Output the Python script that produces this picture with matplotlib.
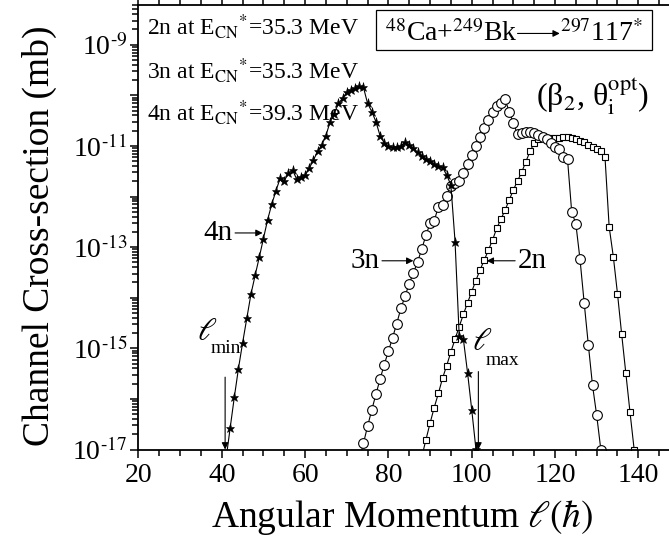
import numpy as np
import matplotlib
matplotlib.use("Agg")
import matplotlib.pyplot as plt
from matplotlib.patches import Rectangle
from matplotlib.ticker import LogLocator, MultipleLocator, FuncFormatter, NullFormatter

plt.rcParams["font.family"] = "serif"
plt.rcParams["font.serif"] = ["Liberation Serif", "DejaVu Serif"]
plt.rcParams["mathtext.fontset"] = "stix"

# angular momentum l (hbar) and log10 of the channel cross-section (mb)
l_4n = np.arange(41, 102)
logsig_4n = [-17.2, -16.58, -15.97, -15.40, -14.89, -14.41, -13.93, -13.56, -13.20, -12.83,
             -12.46, -12.15, -11.89, -11.64, -11.69, -11.54, -11.48, -11.66, -11.61, -11.58,
             -11.44, -11.28, -11.11, -10.98, -10.80, -10.52, -10.36, -10.16, -10.06, -9.94,
             -9.90, -9.86, -9.82, -9.84, -10.16, -10.32, -10.52, -10.80, -10.94, -11.01,
             -11.03, -11.03, -11.00, -10.93, -10.98, -11.05, -11.12, -11.19, -11.26, -11.30,
             -11.36, -11.40, -11.42, -11.58, -11.77, -12.89, -14.75, -14.82, -15.48, -16.21,
             -16.98]

l_3n = np.arange(73, 132)
logsig_3n = [-17.2, -16.88, -16.54, -16.22, -15.91, -15.61, -15.32, -15.06, -14.79, -14.51,
             -14.21, -13.97, -13.72, -13.51, -13.29, -13.04, -12.77, -12.53, -12.48, -12.20,
             -12.16, -11.99, -11.79, -11.74, -11.70, -11.54, -11.36, -11.18, -11.01, -10.83,
             -10.65, -10.49, -10.32, -10.22, -10.15, -10.08, -10.32, -10.55, -10.77, -10.74,
             -10.72, -10.72, -10.75, -10.79, -10.83, -10.87, -10.95, -11.03, -11.07, -11.22,
             -11.26, -12.30, -12.54, -13.24, -14.10, -14.93, -15.73, -16.32, -17.0]

l_2n = np.arange(88, 140)
logsig_2n = [-17.15, -16.81, -16.48, -16.17, -15.89, -15.59, -15.34, -15.07, -14.82, -14.57,
             -14.33, -14.10, -13.88, -13.66, -13.45, -13.26, -13.06, -12.86, -12.63, -12.45,
             -12.27, -12.07, -11.87, -11.69, -11.52, -11.31, -11.11, -10.94, -10.86, -10.85,
             -10.85, -10.85, -10.85, -10.84, -10.83, -10.83, -10.84, -10.87, -10.90, -10.93,
             -10.98, -11.03, -11.07, -11.10, -11.22, -12.60, -13.19, -13.92, -14.72, -15.49,
             -16.26, -17.0]

# critical angular momenta
l_min = 40.8
l_max = 101.6

channel_labels = [r"2n at E$_{\rm CN}$$^{*}$=35.3 MeV",
                  r"3n at E$_{\rm CN}$$^{*}$=35.3 MeV",
                  r"4n at E$_{\rm CN}$$^{*}$=39.3 MeV"]

fig = plt.figure(figsize=(6.69, 5.5), dpi=100)
ax = fig.add_axes([0.207, 0.1827, 0.8094, 0.8082])

lw = 0.8
ax.plot(l_2n, 10.0 ** np.array(logsig_2n), color="black", linewidth=lw, marker="s",
        markersize=4, markerfacecolor="white", markeredgecolor="black", markeredgewidth=0.8)
ax.plot(l_3n, 10.0 ** np.array(logsig_3n), color="black", linewidth=lw, marker="o",
        markersize=7, markerfacecolor="white", markeredgecolor="black", markeredgewidth=0.8)
ax.plot(l_4n, 10.0 ** np.array(logsig_4n), color="black", linewidth=lw, marker="*",
        markersize=6.5, markerfacecolor="black", markeredgecolor="black", markeredgewidth=0.4)

ax.set_yscale("log")
ax.set_xlim(20, 150)
ax.set_ylim(1e-17, 10 ** -8.215)

ax.xaxis.set_major_locator(MultipleLocator(20))
ax.xaxis.set_minor_locator(MultipleLocator(5))
ax.yaxis.set_major_locator(LogLocator(base=10, numticks=30))
ax.yaxis.set_minor_locator(LogLocator(base=10, subs=np.arange(2, 10), numticks=30))
ax.yaxis.set_minor_formatter(NullFormatter())


def decade_label(v, pos):
    e = int(round(np.log10(v)))
    if e % 2 == 0:
        return ""
    return r"10$^{\text{%d}}$" % e


ax.yaxis.set_major_formatter(FuncFormatter(decade_label))

ax.tick_params(axis="both", which="both", direction="out", width=1.1, labelsize=20)
ax.tick_params(axis="x", which="both", top=True, pad=4)
ax.tick_params(axis="y", which="both", pad=2)
ax.tick_params(which="major", length=6)
ax.tick_params(which="minor", length=4)
for s in ax.spines.values():
    s.set_linewidth(1.3)

ax.set_xlabel(r"Angular Momentum $\ell(\hbar)$", fontsize=27)
ax.set_ylabel("Channel Cross-section (mb)", fontsize=27)
ax.xaxis.set_label_coords(0.487, -0.11)
ax.yaxis.set_label_coords(-0.150, 0.48)

# channel labels with arrows
arrow_kw = dict(arrowstyle="-|>", color="black", lw=0.8, mutation_scale=10,
                shrinkA=0, shrinkB=0)
ax.annotate("4n", xy=(49.8, 10 ** -12.72), xytext=(35.5, 10 ** -12.72), fontsize=21,
            va="center", ha="left", arrowprops=arrow_kw)
ax.annotate("3n", xy=(86.0, 10 ** -13.27), xytext=(70.8, 10 ** -13.27), fontsize=21,
            va="center", ha="left", arrowprops=arrow_kw)
ax.annotate("2n", xy=(103.6, 10 ** -13.27), xytext=(111.1, 10 ** -13.27), fontsize=21,
            va="center", ha="left", arrowprops=arrow_kw)

# l_min and l_max markers
ax.annotate("", xy=(l_min, 1e-17), xytext=(l_min, 10 ** -15.57), arrowprops=arrow_kw)
ax.annotate("", xy=(l_max, 1e-17), xytext=(l_max, 10 ** -15.46), arrowprops=arrow_kw)
ax.text(34.0, 10 ** -14.84, r"$\ell$", fontsize=23, ha="left", va="baseline")
ax.text(37.2, 10 ** -15.09, "min", fontsize=14, ha="left", va="baseline")
ax.text(100.0, 10 ** -15.03, r"$\ell$", fontsize=23, ha="left", va="baseline")
ax.text(103.4, 10 ** -15.33, "max", fontsize=14, ha="left", va="baseline")

for i, lab in enumerate(channel_labels):
    ax.text(0.0157, [0.9325, 0.8335, 0.739][i], lab, fontsize=17,
            transform=ax.transAxes, ha="left", va="baseline")

# reaction box
ax.add_patch(Rectangle((0.4386, 0.8990), 0.5097, 0.0898, transform=ax.transAxes,
                       facecolor="white", edgecolor="black", linewidth=0.9, zorder=3))
ax.text(0.4552, 0.919, r"$^{48}$Ca+$^{249}$Bk", fontsize=20, transform=ax.transAxes,
        ha="left", va="baseline", zorder=4)
ax.annotate("", xy=(0.778, 0.936), xytext=(0.700, 0.936), xycoords="axes fraction",
            textcoords="axes fraction", arrowprops=arrow_kw, zorder=4)
ax.text(0.778, 0.919, r"$^{297}$117$^{*}$", fontsize=20, transform=ax.transAxes,
        ha="left", va="baseline", zorder=4)

ax.text(0.735, 0.772, r"(β$_{2}$, θ$_{\rm i}^{\rm opt}$)", fontsize=23,
        transform=ax.transAxes, ha="left", va="baseline")

fig.savefig("out.png", dpi=100)
